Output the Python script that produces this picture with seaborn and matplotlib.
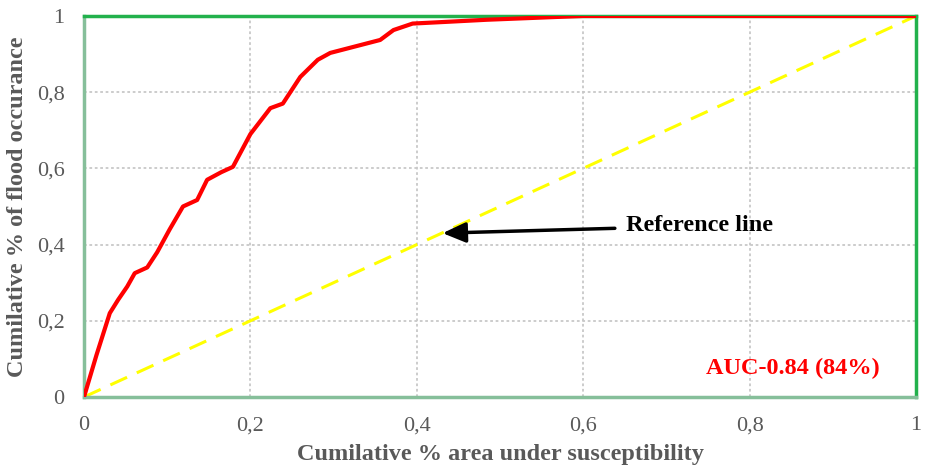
import matplotlib
matplotlib.use("Agg")
import matplotlib.pyplot as plt
import seaborn as sns
import pandas as pd

# ROC curve values
area_pct = [0, 0.015, 0.031, 0.041, 0.052, 0.061, 0.076, 0.088, 0.103, 0.119, 0.136,
            0.148, 0.165, 0.179, 0.2, 0.224, 0.239, 0.26, 0.281, 0.296, 0.326, 0.356,
            0.364, 0.372, 0.395, 0.44, 0.484, 0.53, 0.564, 0.6, 0.8, 1.0]
flood_pct = [0, 0.11, 0.22, 0.255, 0.29, 0.325, 0.34, 0.38, 0.44, 0.50, 0.517,
             0.57, 0.59, 0.604, 0.69, 0.758, 0.77, 0.84, 0.885, 0.903, 0.92, 0.937,
             0.95, 0.963, 0.98, 0.985, 0.99, 0.994, 0.997, 1.0, 1.0, 1.0]
ref_line = [0, 1]
ticks = [0, 0.2, 0.4, 0.6, 0.8, 1]
tick_labels = ["0", "0,2", "0,4", "0,6", "0,8", "1"]

df = pd.DataFrame({"x": area_pct, "y": flood_pct})

sns.set_style("white")
plt.rcParams["font.family"] = ["Liberation Serif", "DejaVu Serif"]

fig = plt.figure(figsize=(9.26, 4.69), dpi=100)
ax = fig.add_axes([0.0907, 0.1535, 0.8985, 0.8125])

ax.grid(True, color="#c8c8c8", linestyle=(0, (1.5, 1.5)), linewidth=1.3)
ax.set_axisbelow(True)

sns.lineplot(x=ref_line, y=ref_line, ax=ax, color="#ffff00", linewidth=2.2,
             linestyle=(0, (6, 3.5)), zorder=2)
sns.lineplot(data=df, x="x", y="y", ax=ax, color="#ff0000", linewidth=3,
             zorder=3, solid_capstyle="round", solid_joinstyle="round")

ax.set_xlim(0, 1)
ax.set_ylim(0, 1)
ax.set_xticks(ticks)
ax.set_xticklabels(tick_labels)
ax.set_yticks(ticks)
ax.set_yticklabels(tick_labels)
ax.tick_params(axis="both", length=0, labelsize=16, labelcolor="#595959")
ax.tick_params(axis="x", pad=14)
ax.tick_params(axis="y", pad=14)

for side in ["top", "right"]:
    ax.spines[side].set_color("#22b14c")
    ax.spines[side].set_linewidth(2.5)
for side in ["left", "bottom"]:
    ax.spines[side].set_color("#86bf9a")
    ax.spines[side].set_linewidth(2.5)

ax.set_xlabel("Cumilative % area under susceptibility", fontsize=17.5,
              fontweight="bold", color="#595959", labelpad=6)
ax.set_ylabel("Cumilative % of flood occurance", fontsize=17.5,
              fontweight="bold", color="#595959", labelpad=6)

ax.annotate("Reference line", xy=(0.431, 0.43), xytext=(0.652, 0.449),
            fontsize=17.5, fontweight="bold", color="black", va="center",
            arrowprops=dict(arrowstyle="-|>,head_length=0.8,head_width=0.35",
                            color="black", lw=2.5, shrinkA=6, shrinkB=0))

ax.text(0.956, 0.075, "AUC-0.84 (84%)", fontsize=17.5, fontweight="bold",
        color="#ff0000", ha="right", va="center")

plt.savefig("out.png", dpi=100)
